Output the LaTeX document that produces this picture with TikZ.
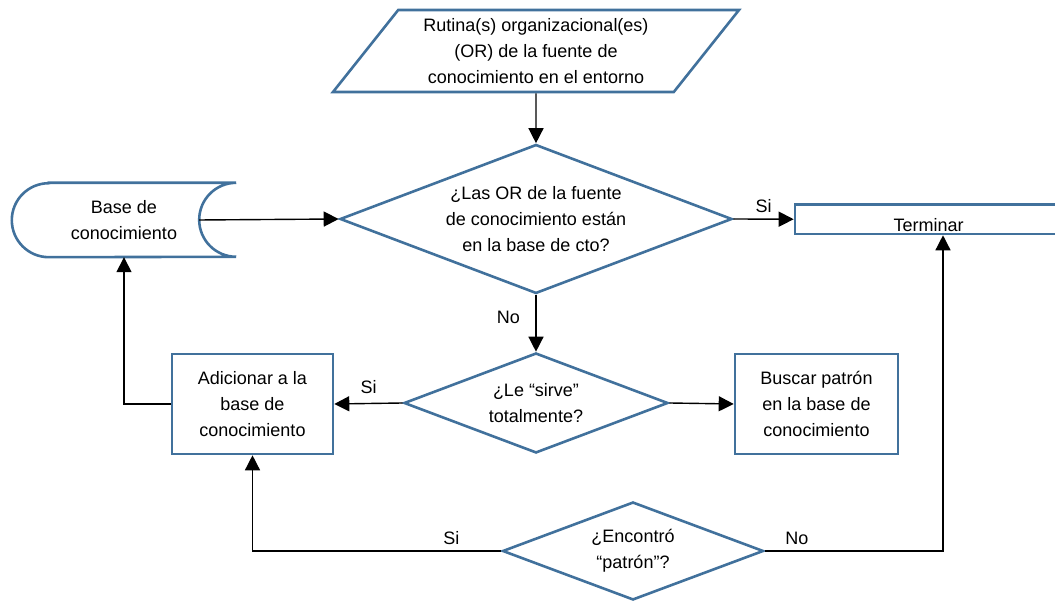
\documentclass[tikz,border=0pt]{standalone}
\usepackage{fontspec}
\setmainfont{Liberation Sans}
\usetikzlibrary{shapes.geometric,arrows.meta}
\definecolor{bordeazul}{RGB}{65,113,156}
\begin{document}
\begin{tikzpicture}[x=1pt,y=1pt,
    font={\fontsize{18}{26}\selectfont},
    forma/.style={draw=bordeazul,line width=2.6pt,fill=white,align=center,inner sep=0pt},
    rombo/.style={forma,diamond},
    caja/.style={forma,rectangle},
    flecha/.style={line width=1.4pt,-{Triangle[length=15pt,width=15pt]}},
    linea/.style={line width=1.4pt}]
    \useasboundingbox (0,0) rectangle (1055,601);
    % entrada
    \node[forma,trapezium,trapezium left angle=45,trapezium right angle=135,trapezium stretches body,
      minimum width=406,minimum height=82] (rutina) at (536,550)
      {Rutina(s) organizacional(es)\\(OR) de la fuente de\\conocimiento en el entorno};
    % decisiones
    \node[rombo,aspect=2.63,minimum width=392,minimum height=149] (estan) at (536,382)
      {¿Las OR de la fuente\\de conocimiento están\\en la base de cto?};
    \node[rombo,aspect=2.64,minimum width=264,minimum height=100] (sirve) at (536,198)
      {¿Le “sirve”\\totalmente?};
    \node[rombo,aspect=2.66,minimum width=261,minimum height=98] (encontro) at (633,50)
      {¿Encontró\\“patrón”?};
    % cajas
    \node[caja,minimum width=161,minimum height=100] (adicionar) at (252.5,197)
      {Adicionar a la\\base de\\conocimiento};
    \node[caja,minimum width=163,minimum height=100] (buscar) at (816.5,197)
      {Buscar patrón\\en la base de\\conocimiento};
    \node[caja,minimum width=267,minimum height=29.5,label={[name=terminartxt,yshift=-6pt]center:Terminar}] (terminar) at (928.5,381.75) {};
    % base de conocimiento
    \node[align=center,minimum width=224,minimum height=74,inner sep=0pt] (base) at (124,381)
      {Base de\\conocimiento};
    \draw[draw=bordeazul,line width=2.6pt] ([xshift=37]base.north west) -- (base.north east)
      arc[start angle=90,end angle=270,radius=37] -- ([xshift=37]base.south west)
      arc[start angle=270,end angle=90,radius=37] -- cycle;
    \coordinate (basesal) at ([xshift=-37]base.east);
    % conectores
    \draw[flecha] (rutina.south) -- (estan.north);
    \draw[flecha] (basesal) -- (estan.west);
    \draw[flecha] (estan.east) -- node[above=2pt] (si1) {Si} (terminar.west);
    \draw[flecha] (estan.south) -- node[pos=0.4,left=12pt] (no1) {No} (sirve.north);
    \draw[flecha] (sirve.west) -- node[above=6pt] (si2) {Si} (adicionar.east);
    \draw[flecha] (sirve.east) -- (buscar.west);
    \draw[flecha] (adicionar.west) -| (base.south);
    \draw[flecha] (encontro.west) -| node[pos=0.1,above=2pt] (si3) {Si} (adicionar.south);
    \draw[flecha] (encontro.east) -| node[pos=0.09,above=2pt] (no2) {No} ([xshift=14.5pt]terminar.south);
\end{tikzpicture}
\end{document}
